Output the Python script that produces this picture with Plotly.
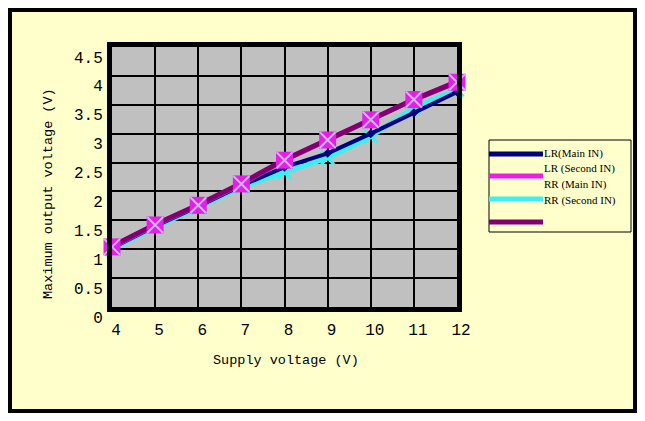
import plotly.graph_objects as go

# data
supply_v = [4, 5, 6, 7, 8, 9, 10, 11, 12]
lr_main = [1.02, 1.40, 1.74, 2.10, 2.42, 2.66, 3.00, 3.36, 3.72]
rr_main = [1.00, 1.38, 1.72, 2.08, 2.33, 2.58, 2.95, 3.45, 3.76]
lr_second = [1.04, 1.42, 1.76, 2.13, 2.54, 2.89, 3.24, 3.59, 3.89]
rr_second = [1.05, 1.43, 1.77, 2.14, 2.55, 2.90, 3.25, 3.59, 3.90]

legend_names = ["LR(Main IN)", "LR (Second IN)", "RR (Main IN)", "RR (Second IN)"]
y_ticks = [0, 0.5, 1, 1.5, 2, 2.5, 3, 3.5, 4, 4.5]
y_labels = ["0", "0.5", "1", "1.5", "2", "2.5", "3", "3.5", "4", "4.5"]

NAVY, MAGENTA, CYAN, PURPLE = "#000080", "#E81EE8", "#3CF0F0", "#800070"
LAVENDER = "#C8B8F4"
YELLOW = "#FFFFCC"

W, H = 645, 421
L, R, T, B = 112, 457, 47, 307  # plot area in pixels


def px(x, y):
    """pixel position -> paper coordinates"""
    return (x - L) / (R - L), (B - y) / (B - T)


fig = go.Figure()

# -------------------------------------------------------------------------
#                               TRACES
# -------------------------------------------------------------------------
fig.add_trace(go.Scatter(
    x=supply_v, y=rr_main, mode='lines+markers', name=legend_names[2],
    line=dict(color=CYAN, width=5), cliponaxis=False,
    marker=dict(symbol='x-thin', size=13, line=dict(color=CYAN, width=3))))
fig.add_trace(go.Scatter(
    x=supply_v, y=lr_main, mode='lines+markers', name=legend_names[0],
    line=dict(color=NAVY, width=4), cliponaxis=False,
    marker=dict(symbol='diamond', size=7, color=NAVY)))
fig.add_trace(go.Scatter(
    x=supply_v, y=lr_second, mode='lines', name=legend_names[1],
    line=dict(color=MAGENTA, width=5), cliponaxis=False))
fig.add_trace(go.Scatter(
    x=supply_v, y=rr_second, mode='lines', name=legend_names[3],
    line=dict(color=PURPLE, width=5), cliponaxis=False))
# square markers with a pale cross on top
fig.add_trace(go.Scatter(
    x=supply_v, y=lr_second, mode='markers', showlegend=False,
    cliponaxis=False, marker=dict(symbol='square', size=17, color=MAGENTA)))
fig.add_trace(go.Scatter(
    x=supply_v, y=lr_second, mode='markers', showlegend=False,
    cliponaxis=False,
    marker=dict(symbol='x-thin', size=16, line=dict(color=LAVENDER, width=2))))

# -------------------------------------------------------------------------
#                               LAYOUT
# -------------------------------------------------------------------------
font_tick = dict(family="Liberation Mono", size=16, color="black")
fig.update_xaxes(
    range=[4, 12], dtick=1, showgrid=True, gridcolor="black", gridwidth=1.5,
    showline=True, linecolor="black", linewidth=5, mirror=True,
    zeroline=False, tickfont=font_tick, ticklabelshift=4,
    ticklabelstandoff=4, fixedrange=True)
fig.update_yaxes(
    range=[0, 4.5], tickvals=y_ticks, ticktext=y_labels, showgrid=True,
    gridcolor="black", gridwidth=1.5, showline=True, linecolor="black",
    linewidth=5, mirror=True, zeroline=False, tickfont=font_tick,
    ticklabelshift=10, ticklabelstandoff=1, fixedrange=True)

shapes = []
# white outer margin and black frame
x0, y0 = px(0, 0)
x1, y1 = px(W, H)
shapes.append(dict(type='rect', xref='paper', yref='paper', x0=x0, y0=y0,
                   x1=x1, y1=y1, line=dict(color='white', width=18)))
x0, y0 = px(10, 10)
x1, y1 = px(635, 411)
shapes.append(dict(type='rect', xref='paper', yref='paper', x0=x0, y0=y0,
                   x1=x1, y1=y1, line=dict(color='black', width=4)))

# legend box
x0, y0 = px(489, 140)
x1, y1 = px(631, 232)
shapes.append(dict(type='rect', xref='paper', yref='paper', x0=x0, y0=y0,
                   x1=x1, y1=y1, line=dict(color='black', width=1)))
for color, ly in zip([NAVY, MAGENTA, CYAN, PURPLE], [154, 176, 199, 222]):
    a0, b0 = px(489, ly)
    a1, _ = px(543, ly)
    shapes.append(dict(type='line', xref='paper', yref='paper', x0=a0,
                       y0=b0, x1=a1, y1=b0, line=dict(color=color, width=5)))

annotations = []
for name, ty in zip(legend_names, [153, 168, 184, 200]):
    ax, ay = px(542, ty)
    annotations.append(dict(
        x=ax, y=ay, xref='paper', yref='paper', text=name, showarrow=False,
        xanchor='left', yanchor='middle',
        font=dict(family="Liberation Serif", size=11, color="black")))

title_font = dict(family="Liberation Mono", size=13.5, color="black")
ax, ay = px(286, 360)
annotations.append(dict(x=ax, y=ay, xref='paper', yref='paper',
                        text="Supply voltage (V)", showarrow=False,
                        xanchor='center', yanchor='middle', font=title_font))
ax, ay = px(48, 194)
annotations.append(dict(x=ax, y=ay, xref='paper', yref='paper',
                        text="Maximum output voltage (V)", showarrow=False,
                        xanchor='center', yanchor='middle', textangle=-90,
                        font=title_font))

fig.update_layout(
    width=W, height=H, margin=dict(l=L, r=W - R, t=T, b=H - B),
    paper_bgcolor=YELLOW, plot_bgcolor="#C0C0C0", showlegend=False,
    shapes=shapes, annotations=annotations)

fig.write_html("out.html", config={'displayModeBar': False},
               post_script="document.body.style.margin='0';")
